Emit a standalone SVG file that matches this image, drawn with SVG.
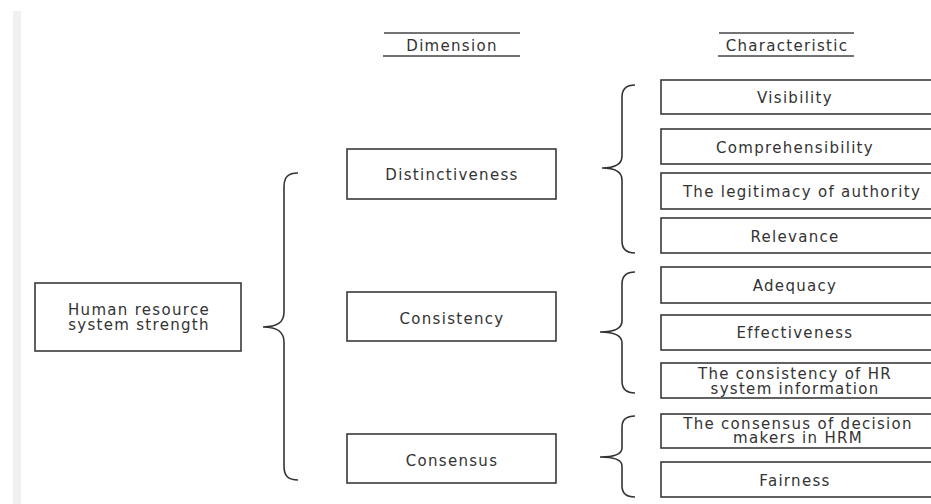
<svg xmlns="http://www.w3.org/2000/svg" width="931" height="504" viewBox="0 0 931 504">
<style>
.box{fill:#fff;stroke:#3a3a3a;stroke-width:1.6}
.t{font-family:"DejaVu Sans","Noto Sans",sans-serif;font-size:15px;letter-spacing:1.3px;fill:#333;text-anchor:middle;dominant-baseline:central}
.br{fill:none;stroke:#333;stroke-width:1.6}
.hl{stroke:#444;stroke-width:1.6}
</style>
<rect x="0" y="0" width="931" height="504" fill="#fff"/>
<rect x="13" y="11" width="8" height="493" fill="#f0f0f0"/>

<g id="hdr-dimension">
<line class="hl" x1="384" y1="33" x2="520" y2="33"/>
<line class="hl" x1="383" y1="56" x2="520" y2="56"/>
<text class="t" x="452" y="45.5">Dimension</text>
</g>
<g id="hdr-characteristic">
<line class="hl" x1="719" y1="33" x2="854" y2="33"/>
<line class="hl" x1="718" y1="56" x2="854" y2="56"/>
<text class="t" x="787" y="45.5">Characteristic</text>
</g>

<g id="root">
<rect class="box" x="35" y="283" width="206" height="68"/>
<text class="t" x="139" y="309.5">Human resource</text>
<text class="t" x="139" y="324.5">system strength</text>
</g>

<g id="dim-distinctiveness">
<rect class="box" x="347" y="149" width="209" height="50"/>
<text class="t" x="452" y="174.5">Distinctiveness</text>
</g>
<g id="dim-consistency">
<rect class="box" x="347" y="292" width="209" height="49"/>
<text class="t" x="452" y="318.5">Consistency</text>
</g>
<g id="dim-consensus">
<rect class="box" x="347" y="434" width="209" height="49"/>
<text class="t" x="452" y="460.5">Consensus</text>
</g>

<g id="c-visibility">
<rect class="box" x="661" y="80" width="280" height="34"/>
<text class="t" x="795" y="97.5">Visibility</text>
</g>
<g id="c-comprehensibility">
<rect class="box" x="661" y="129" width="280" height="35"/>
<text class="t" x="795" y="147.5">Comprehensibility</text>
</g>
<g id="c-legitimacy">
<rect class="box" x="661" y="173" width="280" height="36"/>
<text class="t" x="802" y="191.5">The legitimacy of authority</text>
</g>
<g id="c-relevance">
<rect class="box" x="661" y="218" width="280" height="35"/>
<text class="t" x="795" y="236.5">Relevance</text>
</g>
<g id="c-adequacy">
<rect class="box" x="661" y="267" width="280" height="36"/>
<text class="t" x="795" y="285.5">Adequacy</text>
</g>
<g id="c-effectiveness">
<rect class="box" x="661" y="315" width="280" height="35"/>
<text class="t" x="795" y="332.5">Effectiveness</text>
</g>
<g id="c-hrinfo">
<rect class="box" x="661" y="363" width="280" height="35"/>
<text class="t" x="795" y="373.5">The consistency of HR</text>
<text class="t" x="795" y="388.5">system information</text>
</g>
<g id="c-decision">
<rect class="box" x="661" y="414" width="280" height="34"/>
<text class="t" x="798" y="423.5">The consensus of decision</text>
<text class="t" x="798" y="438">makers in HRM</text>
</g>
<g id="c-fairness">
<rect class="box" x="661" y="462" width="280" height="35"/>
<text class="t" x="795" y="480.5">Fairness</text>
</g>

<g id="connectors">
<path class="br" d="M298,173 C288,173 284,177 284,187 V312 C284,322 278,327 263,327 C278,327 284,332 284,342 V466 C284,476 288,480 298,480"/>
<path class="br" d="M635,85 C626,85 622,89 622,97 V156 C622,164 616,168 602,168 C616,168 622,172 622,180 V241 C622,249 626,253 635,253"/>
<path class="br" d="M635,272 C626,272 622,276 622,284 V321 C622,328 616,332 600,332 C616,332 622,336 622,343 V381 C622,389 626,393 635,393"/>
<path class="br" d="M635,416 C626,416 622,420 622,427 V448 C622,454 616,457 600,457 C616,457 622,460 622,466 V486 C622,493 626,497 635,497"/>
</g>
</svg>
